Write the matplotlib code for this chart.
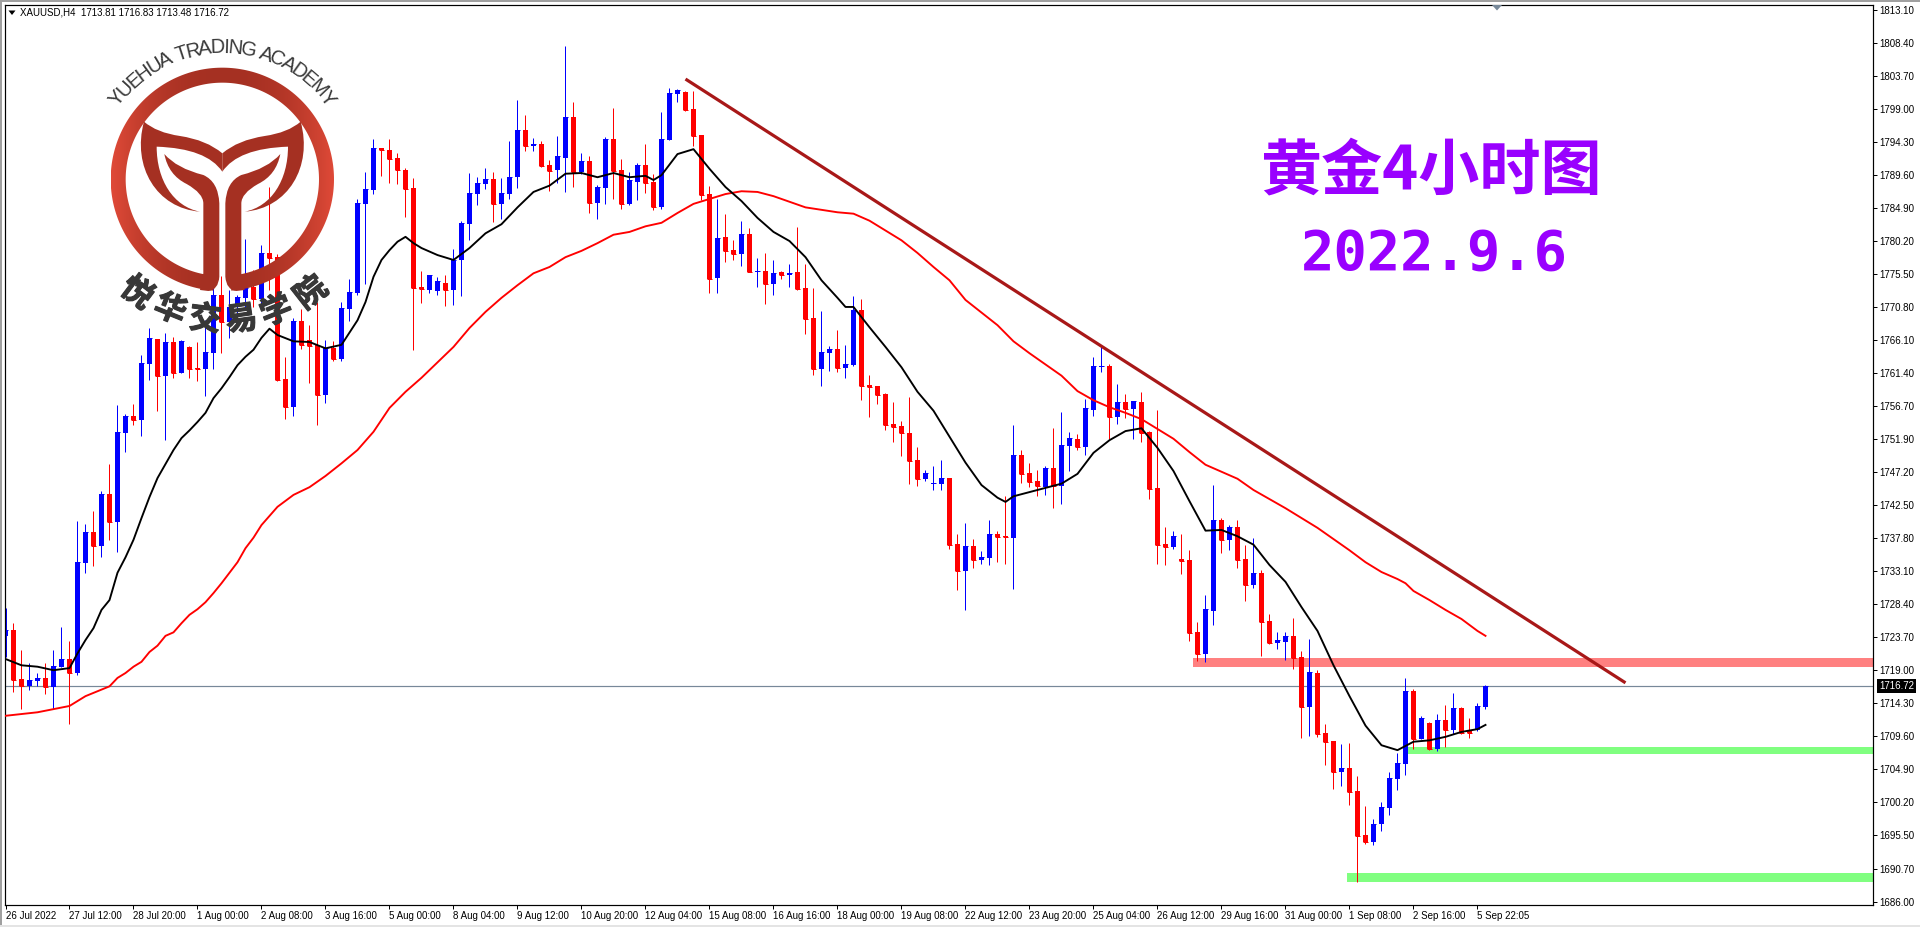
import numpy as np
import matplotlib
matplotlib.use("Agg")
import matplotlib.pyplot as plt
import matplotlib.patheffects as pe
from matplotlib.path import Path
from matplotlib.patches import PathPatch, Rectangle, Polygon

# ---------- data (USD, one bar per 4 hours) ----------
opens = [1723.9,1724.7,1717.7,1716.7,1717.5,1717.9,1716.6,1719.5,1720.6,1718.6,
1734.3,1738.7,1736.7,1744.1,1740.1,1752.8,1755.2,1754.7,1762.7,1766.2,
1761.0,1765.8,1761.4,1765.1,1762.1,1761.9,1764.2,1772.5,1768.6,1770.8,
1772.1,1773.6,1771.9,1778.5,1777.9,1760.5,1756.5,1768.8,1766.1,1765.4,
1758.2,1764.9,1763.4,1770.5,1772.8,1785.5,1787.5,1793.5,1793.2,1792.0,
1790.3,1787.8,1773.6,1773.2,1773.1,1774.2,1773.2,1777.5,1782.6,1786.9,
1788.3,1789.0,1785.5,1786.9,1789.3,1796.0,1793.7,1794.0,1791.0,1790.3,
1792.0,1797.9,1790.0,1791.6,1785.6,1787.8,1794.7,1790.3,1785.5,1788.6,
1791.0,1788.6,1785.1,1794.6,1801.2,1801.4,1799.0,1795.3,1786.9,1774.9,
1780.8,1778.9,1778.3,1781.2,1775.8,1775.9,1774.1,1775.8,1775.4,1775.8,
1773.5,1769.2,1761.9,1764.2,1764.8,1762.1,1762.5,1770.4,1759.7,1759.5,
1758.4,1754.1,1753.8,1752.8,1749.0,1746.3,1745.6,1745.6,1746.4,1737.0,
1733.1,1736.7,1734.7,1735.0,1738.4,1738.1,1737.8,1749.7,1747.1,1746.0,
1745.1,1747.8,1745.3,1751.0,1752.0,1750.8,1756.1,1762.2,1762.4,1755.1,
1757.2,1756.2,1757.2,1753.0,1745.0,1737.0,1736.6,1734.8,1734.7,1724.5,
1721.3,1727.4,1740.4,1737.6,1739.4,1734.9,1731.2,1732.9,1726.0,1722.9,
1723.0,1723.9,1720.9,1713.7,1718.6,1710.0,1708.9,1704.5,1705.1,1701.8,
1695.5,1694.5,1697.0,1699.4,1703.5,1705.6,1716.0,1709.2,1711.5,1707.8,
1711.9,1710.5,1713.6,1710.3,1710.5,1713.81]
highs = [1727.9,1725.7,1721.9,1720.0,1718.6,1720.0,1721.9,1725.2,1723.2,1740.3,
1739.8,1741.7,1744.6,1748.4,1756.8,1755.5,1757.0,1763.9,1767.8,1766.2,
1767.1,1766.5,1766.1,1765.2,1765.8,1768.9,1773.6,1775.2,1773.2,1772.5,
1780.5,1776.1,1779.6,1787.9,1778.3,1763.7,1769.2,1770.5,1768.2,1771.5,
1766.1,1765.9,1771.5,1774.8,1786.2,1790.0,1794.7,1793.5,1794.7,1792.8,
1790.6,1789.2,1775.9,1775.3,1775.1,1775.3,1779.1,1783.1,1789.9,1789.3,
1790.6,1790.0,1789.2,1794.5,1800.3,1798.2,1794.9,1794.5,1791.8,1795.2,
1808.0,1800.0,1792.8,1792.3,1788.2,1795.0,1799.2,1791.9,1790.0,1791.3,
1794.0,1789.8,1798.6,1802.0,1801.9,1801.6,1801.6,1795.3,1788.0,1786.2,
1784.1,1780.3,1783.1,1782.1,1777.8,1778.5,1777.5,1775.9,1776.9,1782.2,
1776.9,1773.5,1770.2,1765.2,1767.5,1765.4,1772.4,1771.9,1761.1,1759.5,
1758.5,1757.2,1754.5,1758.0,1750.8,1747.5,1748.1,1749.0,1746.4,1738.4,
1740.0,1737.7,1736.0,1740.4,1738.8,1743.8,1754.0,1750.4,1748.6,1747.5,
1748.1,1753.5,1755.8,1753.0,1752.7,1757.7,1763.7,1765.1,1762.7,1759.8,
1758.4,1757.4,1758.7,1753.1,1756.1,1739.4,1738.9,1738.4,1736.1,1725.9,
1729.7,1745.4,1740.7,1739.7,1740.4,1736.9,1737.9,1733.3,1727.0,1724.4,
1724.4,1726.4,1721.7,1723.4,1719.0,1711.3,1708.9,1708.5,1708.6,1703.9,
1699.6,1697.8,1700.2,1704.5,1707.2,1717.9,1716.3,1712.5,1711.6,1712.8,
1714.0,1715.7,1713.8,1712.2,1714.3,1716.83]
lows = [1720.9,1715.9,1713.5,1716.2,1716.7,1715.6,1713.5,1719.5,1711.3,1718.3,
1732.9,1733.9,1735.1,1737.6,1735.9,1750.1,1754.0,1752.4,1760.4,1756.0,
1751.8,1760.7,1761.4,1760.7,1760.2,1758.1,1761.9,1764.2,1766.4,1768.2,
1770.4,1770.8,1770.4,1773.2,1760.2,1754.8,1755.2,1764.8,1760.0,1754.0,
1757.1,1763.1,1763.1,1768.8,1772.5,1774.1,1786.9,1789.5,1788.5,1788.3,
1783.6,1764.7,1771.4,1772.8,1772.5,1770.9,1771.1,1772.4,1780.3,1785.3,
1787.6,1782.9,1783.3,1786.2,1787.8,1793.0,1793.0,1790.7,1787.3,1788.5,
1787.2,1787.9,1789.8,1784.2,1783.3,1785.5,1786.2,1784.8,1785.3,1786.1,
1787.0,1784.6,1784.8,1794.6,1800.0,1798.7,1793.7,1786.1,1772.8,1772.8,
1777.2,1777.5,1776.6,1775.8,1773.6,1771.2,1772.5,1774.8,1773.6,1773.2,
1766.9,1761.1,1759.5,1761.7,1761.5,1760.7,1762.4,1757.5,1755.1,1757.0,
1753.2,1751.5,1749.5,1745.6,1745.3,1746.0,1744.7,1744.7,1736.3,1730.4,
1727.6,1733.6,1734.1,1734.0,1734.4,1734.1,1730.6,1745.7,1745.1,1743.8,
1744.0,1742.1,1742.7,1747.4,1750.4,1749.7,1755.2,1761.5,1752.0,1754.1,
1755.0,1752.0,1751.5,1743.4,1734.1,1734.0,1736.3,1732.7,1723.2,1720.3,
1720.2,1725.4,1735.7,1736.1,1733.6,1728.9,1730.7,1721.0,1722.7,1722.0,
1720.5,1719.2,1709.3,1709.6,1709.5,1705.5,1702.1,1702.5,1699.8,1688.8,
1694.2,1694.1,1696.1,1698.4,1701.9,1704.1,1707.8,1709.2,1707.6,1707.5,
1708.0,1709.9,1709.9,1709.3,1710.3,1713.48]
closes = [1724.7,1717.6,1716.7,1717.6,1717.9,1716.6,1719.6,1720.6,1718.6,1734.4,
1738.7,1736.7,1744.1,1740.1,1753.0,1755.2,1754.7,1762.8,1766.4,1761.0,
1765.8,1761.4,1765.9,1761.9,1761.9,1764.4,1772.5,1768.6,1770.8,1772.2,
1773.5,1771.9,1778.5,1777.8,1760.4,1756.5,1768.8,1765.4,1765.2,1758.2,
1764.9,1763.4,1770.6,1772.9,1785.6,1787.6,1793.5,1793.2,1791.9,1790.3,
1787.6,1773.5,1773.4,1775.3,1774.5,1773.2,1777.5,1782.8,1787.0,1788.5,
1789.0,1785.5,1787.0,1789.3,1796.0,1793.7,1794.0,1790.9,1790.2,1792.3,
1797.9,1790.0,1791.6,1785.6,1787.9,1794.7,1790.2,1785.5,1788.9,1791.0,
1788.5,1785.1,1794.7,1801.3,1801.7,1798.9,1795.2,1786.8,1774.8,1780.6,
1778.8,1778.3,1781.2,1775.8,1775.9,1774.1,1775.6,1775.4,1775.6,1773.4,
1769.1,1761.9,1764.4,1764.8,1762.1,1762.7,1770.4,1759.5,1759.4,1758.2,
1754.0,1753.7,1752.8,1748.8,1746.3,1747.1,1745.7,1746.4,1736.9,1733.1,
1736.7,1734.7,1735.1,1738.4,1738.0,1738.0,1749.7,1747.0,1745.8,1745.3,
1747.8,1745.3,1751.1,1752.1,1750.8,1756.4,1762.4,1762.4,1755.1,1757.2,
1756.2,1757.4,1752.8,1744.8,1736.9,1736.6,1738.1,1734.6,1724.3,1721.3,
1727.7,1740.4,1737.6,1739.4,1734.7,1731.2,1732.9,1725.9,1722.9,1723.3,
1723.9,1720.7,1713.7,1718.7,1709.9,1708.8,1704.5,1705.1,1701.6,1695.4,
1694.5,1697.1,1699.5,1703.6,1705.8,1716.0,1709.2,1712.2,1707.8,1711.9,
1710.5,1713.6,1710.0,1710.0,1713.9,1716.72]

ma_fast_bar = [0,2,4,6,8,9,10,11,12,13,14,15,16,17,18,19,20,21,22,23,24,25,26,27,28,29,30,31,32,33,34,36,38,40,42,44,45,46,47,48,49,50,51,52,54,56,58,
60,62,64,66,68,70,72,74,76,78,80,81,82,84,86,88,90,92,94,96,98,100,102,104,105,106,108,110,112,114,116,118,
120,122,124,125,126,128,130,132,134,136,138,140,142,144,146,148,150,152,154,156,158,160,162,164,166,168,
170,172,174,176,178,180,182,184,185]
ma_fast = [1720.6,1719.7,1719.5,1719.0,1719.3,1721.4,1723.3,1725.0,1727.6,1729.0,1732.9,1735.1,1737.6,1740.7,1743.7,1746.4,1748.4,1750.4,1752.1,1753.2,1754.4,1755.7,1757.8,1759.2,
1760.8,1762.5,1763.7,1764.7,1766.4,1767.7,1766.8,1765.9,1765.8,1764.9,1765.4,1768.9,1771.5,1775.1,1777.5,1778.9,1780.1,1780.8,1779.9,1779.2,1778.2,1777.5,1779.2,
1781.3,1782.6,1785.0,1787.2,1788.1,1789.8,1789.9,1789.3,1789.9,1789.3,1789.5,1788.9,1789.6,1792.6,1793.3,1790.5,1787.9,
1785.9,1783.5,1781.5,1780.2,1777.9,1774.6,1772.1,1770.8,1770.8,1767.9,1765.1,1762.2,1758.7,1756.0,1752.3,
1748.6,1745.4,1743.6,1743.0,1743.8,1744.4,1745.0,1745.6,1747.0,1750.0,1751.8,1753.1,1753.5,1750.7,1747.4,1743.1,
1738.9,1739.0,1738.1,1736.9,1734.0,1731.6,1728.0,1724.6,1719.7,1715.3,1711.1,1708.3,1707.6,1708.8,1709.0,1709.5,1710.2,1710.6,1711.2]

ma_slow_bar = [0,4,8,10,13,14,15,16,17,18,19,20,21,22,23,24,25,26,27,28,29,30,31,32,33,34,36,38,40,42,44,46,48,50,52,54,56,58,
60,62,64,66,68,70,72,74,76,78,80,82,84,86,88,90,92,94,96,100,
104,106,108,112,114,116,118,119,120,124,126,128,132,134,136,138,140,142,144,146,148,150,152,154,156,158,160,
162,164,166,168,170,172,174,175,176,178,180,182,184,185]
ma_slow = [1712.5,1713.0,1713.9,1715.3,1716.7,1717.9,1718.6,1719.5,1720.2,1721.6,1722.5,1723.9,1724.4,1725.7,1726.9,1727.7,1728.7,1730.0,1731.4,1732.9,1734.4,1736.4,1737.9,
1739.7,1741.0,1742.3,1744.0,1745.1,1746.7,1748.5,1750.4,1753.0,1756.4,1758.7,1760.7,1762.9,1765.1,1767.8,
1770.1,1772.1,1773.9,1775.6,1776.5,1777.9,1778.8,1779.9,1781.1,1781.5,1782.3,1782.8,1784.2,1785.5,1786.2,1786.9,1787.3,1787.2,1786.6,1785.0,
1784.3,1784.1,1783.1,1780.3,1778.5,1776.5,1774.6,1773.2,1771.8,1768.2,1765.9,1764.2,1761.0,1758.8,1757.5,1756.5,1755.7,
1754.8,1753.4,1752.0,1750.1,1748.3,1747.3,1746.3,1744.7,1743.4,1742.1,1740.7,1739.3,1737.7,1736.1,1734.4,1733.0,1732.0,
1731.4,1730.3,1729.0,1727.6,1726.3,1724.6,1723.9]

trend_bar = [85.0, 202.5]
trend_price = [1803.3, 1717.2]

zone_start_bar = [148.4, 175.0, 167.75]
zone_low = [1719.46, 1707.05, 1688.80]
zone_high = [1720.74, 1708.05, 1690.09]
zone_color = ["#FF8080", "#80FF80", "#80FF80"]

last_price = 1716.72

price_labels = ["1813.10","1808.40","1803.70","1799.00","1794.30","1789.60","1784.90","1780.20","1775.50",
"1770.80","1766.10","1761.40","1756.70","1751.90","1747.20","1742.50","1737.80","1733.10","1728.40","1723.70",
"1719.00","1714.30","1709.60","1704.90","1700.20","1695.50","1690.70","1686.00"]
date_labels = ["26 Jul 2022","27 Jul 12:00","28 Jul 20:00","1 Aug 00:00","2 Aug 08:00","3 Aug 16:00","5 Aug 00:00",
"8 Aug 04:00","9 Aug 12:00","10 Aug 20:00","12 Aug 04:00","15 Aug 08:00","16 Aug 16:00","18 Aug 00:00",
"19 Aug 08:00","22 Aug 12:00","23 Aug 20:00","25 Aug 04:00","26 Aug 12:00","29 Aug 16:00","31 Aug 00:00",
"1 Sep 08:00","2 Sep 16:00","5 Sep 22:05"]
date_tick_step = 8

header = "XAUUSD,H4  1713.81 1716.83 1713.48 1716.72"
title_1 = "黄金4小时图"
title_2 = "2022.9.6"
logo_en = "YUEHUA TRADING ACADEMY"
logo_cn = "悦华交易学院"

# ---------- figure ----------
W, H = 1920, 927
PX = 72 / 100
LATIN = "Liberation Sans"
fig = plt.figure(figsize=(W / 100, H / 100), dpi=100, facecolor="white")
L, R, T, B = 4.5, 1873.5, 4.5, 904.5
ax = fig.add_axes([L / W, 1 - B / H, (R - L) / W, (B - T) / H], zorder=1)
ax.set_xlim(-0.125, 233.5)
ax.set_ylim(1685.59, 1813.93)
for s in ax.spines.values():
    s.set_linewidth(PX * 1.2)
    s.set_color("black")

# zones
xmax = ax.get_xlim()[1]
for x0, lo, hi, c in zip(zone_start_bar, zone_low, zone_high, zone_color):
    ax.add_patch(Rectangle((x0, lo), xmax - x0, hi - lo, fc=c, ec="none", zorder=1))

ax.axhline(last_price, color="#778899", lw=PX * 1.2, zorder=1.5)

# candles
n = len(opens)
x = np.arange(n)
o, h, l, c = map(np.array, (opens, highs, lows, closes))
up = c >= o
cols = np.where(up, "#0000FF", "#FF0000")
ax.vlines(x, l, h, colors=cols, lw=PX, zorder=2)
ax.bar(x, np.abs(c - o), bottom=np.minimum(o, c), width=5 / 8, color=cols, lw=0, zorder=2.1, antialiased=False)
ax.hlines(c, x - 2.5 / 8, x + 2.5 / 8, colors=cols, lw=PX, zorder=2.1)

# moving averages and trend line
ax.plot(ma_slow_bar, ma_slow, color="#FF0000", lw=PX * 1.9, zorder=3)
ax.plot(ma_fast_bar, ma_fast, color="#000000", lw=PX * 1.9, zorder=3.1)
ax.plot(trend_bar, trend_price, color="#A81818", lw=PX * 3.2, zorder=2.6, solid_capstyle="butt")

# axes
ax.yaxis.tick_right()
ax.set_yticks([float(v) for v in price_labels])
ax.set_yticklabels(price_labels, fontsize=7, family=LATIN)
ax.set_xticks(np.arange(len(date_labels)) * date_tick_step)
ax.set_xticklabels(date_labels, fontsize=7, family=LATIN, ha="left")
ax.tick_params(axis="y", length=3, width=PX, pad=1.5)
ax.tick_params(axis="x", length=3, width=PX, pad=2)
ax.text((1879 - L) / (R - L), last_price, f"{last_price:.2f}", transform=ax.get_yaxis_transform(),
        color="white", fontsize=7, family=LATIN, va="center", ha="left",
        bbox=dict(fc="black", ec="none", pad=1.6), zorder=6)

# ---------- overlay in figure pixels: frame, logo, titles ----------
ov = fig.add_axes([0, 0, 1, 1], zorder=5)
ov.set_xlim(0, W)
ov.set_ylim(H, 0)
ov.axis("off")
ov.patch.set_alpha(0)

ov.add_patch(Rectangle((0, 0), W, 2, fc="#A0A0A0", ec="none"))
ov.add_patch(Rectangle((0, 0), 1.6, H, fc="#A0A0A0", ec="none"))
ov.add_patch(Rectangle((0, 925), W, 2, fc="#E4E4E4", ec="none"))
ov.add_patch(Polygon([[1492, 5], [1502, 5], [1497, 10.5]], fc="#778899", ec="none"))
ov.add_patch(Polygon([[8.5, 10.5], [15.5, 10.5], [12, 15]], fc="black", ec="none"))
ov.text(20, 12.5, header, fontsize=7, family=LATIN, va="center", ha="left", color="black")

ov.text(1431, 172, title_1, color="#9900FF", fontsize=44, fontweight="bold",
        family=["Noto Sans CJK SC", "DejaVu Sans"], ha="center", va="center")
ov.text(1434, 254, title_2, color="#9900FF", fontsize=40, fontweight="bold",
        family="DejaVu Sans Mono", ha="center", va="center")

# logo (zoomed-crop coordinates / 3)
cx, cy = 667 / 3, 538 / 3
r_out, r_in = 335 / 3, 290 / 3
gap = np.radians(4.6)
th = np.linspace(np.pi / 2 + gap, np.pi / 2 + 2 * np.pi - gap, 240)
ring = np.vstack([np.c_[cx + r_out * np.cos(th), cy + r_out * np.sin(th)],
                  np.c_[cx + r_in * np.cos(th[::-1]), cy + r_in * np.sin(th[::-1])]])
ring_path = Path(np.vstack([ring, ring[0]]), closed=True)
t = np.linspace(0, 1, 256)
c_edge, c_mid = np.array([0xE0, 0x4A, 0x38]) / 255, np.array([0xA5, 0x30, 0x22]) / 255
w = np.clip(np.abs(2 * t - 1) ** 2.2, 0, 1)[:, None]
grad = (c_mid * (1 - w) + c_edge * w)[None, :, :]
im = ov.imshow(grad, extent=(cx - r_out, cx + r_out, cy + r_out, cy - r_out), aspect="auto", zorder=4)
im.set_clip_path(PathPatch(ring_path, transform=ov.transData))
ov.set_xlim(0, W)
ov.set_ylim(H, 0)

M, Q, C, LN, CL = Path.MOVETO, Path.CURVE3, Path.CURVE4, Path.LINETO, Path.CLOSEPOLY
wing_v = [(432,365),(470,398),(540,408),(620,420),(667,460),(667,515),(620,445),(470,440),
          (470,540),(520,620),(600,635),(470,625),(395,500),(432,365),(432,365)]
wing_c = [M,Q,Q,Q,Q,LN,Q,Q,C,C,C,C,C,C,CL]
stem_v = [(493,462),(530,505),(610,525),(655,545),(658,610),(658,830),(655,870),(625,873),(600,870),(610,820),
          (610,610),(610,580),(560,552),(505,525),(493,462),(493,462)]
stem_c = [M,Q,Q,Q,Q,LN,Q,Q,LN,LN,LN,Q,Q,Q,Q,CL]
for verts, codes in ((wing_v, wing_c), (stem_v, stem_c)):
    v = np.array(verts, float)
    for mirror in (False, True):
        vv = v.copy()
        if mirror:
            vv[:, 0] = 1334 - vv[:, 0]
        ov.add_patch(PathPatch(Path(vv / 3, codes), fc="#A53022", ec="none", zorder=4.1))

# curved English name
adv = {"Y":.667,"U":.722,"E":.667,"H":.722,"A":.667," ":.278,"T":.611,"R":.722,"D":.722,"I":.278,
       "N":.722,"G":.778,"C":.722,"M":.833}
widths = np.array([adv[ch] for ch in logo_en])
pos = (np.cumsum(widths) - widths / 2) / widths.sum()
a0, a1 = np.radians(-55), np.radians(55)
rad = 132
for ch, f in zip(logo_en, pos):
    a = a0 + (a1 - a0) * f
    ov.text(cx + rad * np.sin(a), cy - rad * np.cos(a), ch, rotation=-np.degrees(a), rotation_mode="anchor",
            fontsize=14.5, family=LATIN, color="#3A3A3A", ha="center", va="center", zorder=4.2)

# curved Chinese name
cn_xy = [(410,880),(510,930),(615,960),(725,960),(830,935),(935,880)]
cn_rot = [-37,-22,-7,8,22,38]
for ch, (px, py), r in zip(logo_cn, cn_xy, cn_rot):
    ov.text(px / 3, py / 3, ch, rotation=r, rotation_mode="anchor", fontsize=23, fontweight="bold",
            family=["Noto Sans CJK SC", "DejaVu Sans"], color="#383838", ha="center", va="center", zorder=4.3,
            path_effects=[pe.withStroke(linewidth=0.8, foreground="#383838")])

fig.savefig("out.png", dpi=100, facecolor="white")
